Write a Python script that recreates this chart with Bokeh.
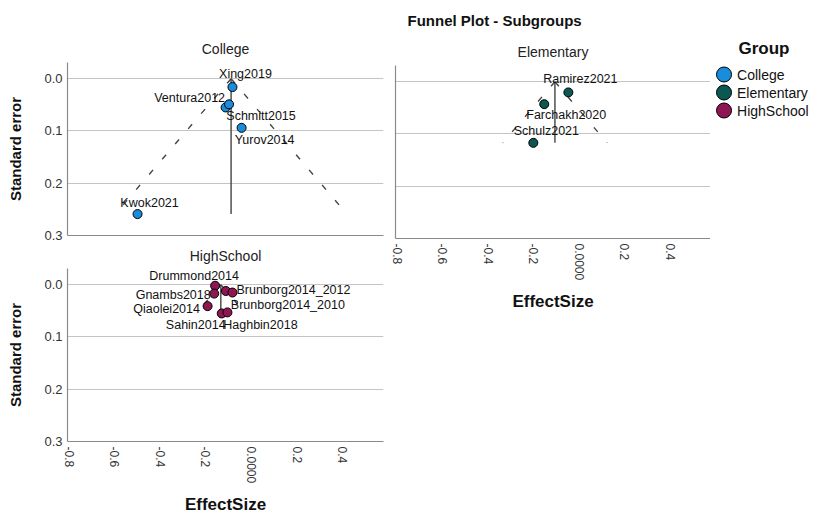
import numpy as np
from bokeh.plotting import figure
from bokeh.layouts import row, column
from bokeh.models import (Range1d, FactorRange, FixedTicker, Title, ColumnDataSource)
from bokeh.core.properties import value
from bokeh.embed import file_html
from bokeh.resources import INLINE

FONT = "Liberation Sans"

# ---------------- data ----------------
x_ticks = [-0.8, -0.6, -0.4, -0.2, 0.0, 0.2, 0.4]
x_tick_labels = ["-0.8", "-0.6", "-0.4", "-0.2", "0.0000", "0.2", "0.4"]
y_ticks = [0.0, 0.1, 0.2, 0.3]
y_tick_labels = ["0.0", "0.1", "0.2", "0.3"]

groups = ["College", "Elementary", "HighSchool"]

college_study = ["Xing2019", "Ventura2012", "Schmitt2015", "Yurov2014", "Kwok2021"]
college_es = [-0.084, -0.114, -0.099, -0.044, -0.500]
college_se = [0.016, 0.055, 0.049, 0.094, 0.259]
college_pooled = -0.090

elem_study = ["Ramirez2021", "Farchakh2020", "Schulz2021"]
elem_es = [-0.047, -0.153, -0.201]
elem_se = [0.0205, 0.043, 0.117]
elem_pooled = -0.106

hs_study = ["Drummond2014", "Gnambs2018", "Brunborg2014_2010", "Brunborg2014_2012",
            "Qiaolei2014", "Sahin2014", "Haghbin2018"]
hs_es = [-0.160, -0.164, -0.113, -0.084, -0.193, -0.131, -0.106]
hs_se = [0.002, 0.017, 0.012, 0.015, 0.041, 0.055, 0.053]
hs_pooled = -0.135

# ---------------- styles ----------------
colors = {"College": "#1a8cdc", "Elementary": "#0b5752", "HighSchool": "#8e1652"}
# label offsets in pixels (style only)
college_dx = [13, -36, 32, 23, 12]
college_dy = [-13, -9, 12, 12, -11]
elem_dx = [12, 22, 13]
elem_dy = [-13, 11, -12]
hs_dx = [-21, -41, 62, 61, -41, -26, 33]
hs_dy = [-10, 1, 14, -3, 3, 12, 13]

X_RANGE = (-0.807, 0.578)
Y_RANGE = (0.3, -0.031)


def style_title(t, size="14px", bold=False, standoff=11):
    t.text_font = FONT
    t.text_font_size = size
    t.text_font_style = "bold" if bold else "normal"
    t.text_color = "#222222" if not bold else "#111111"
    t.standoff = standoff


def make_panel(title, study, es, se, pooled, color, dx, dy,
               xlabels, ylabels, borders, fw, title_standoff=11):
    left, right, top, bottom = borders
    p = figure(frame_width=fw, frame_height=173,
               x_range=Range1d(*X_RANGE), y_range=Range1d(*Y_RANGE),
               output_backend="svg", toolbar_location=None,
               min_border_left=left, min_border_right=right,
               min_border_top=top, min_border_bottom=bottom,
               title=title)
    p.title.align = "center"
    style_title(p.title, standoff=title_standoff)
    p.outline_line_color = None
    p.background_fill_color = "white"
    p.border_fill_color = "white"
    p.xgrid.visible = False
    p.ygrid.ticker = FixedTicker(ticks=y_ticks)
    p.ygrid.grid_line_color = "#c4c4c4"
    p.ygrid.grid_line_width = 1

    for ax in (p.xaxis[0], p.yaxis[0]):
        ax.axis_line_color = "#8a8a8a"
        ax.axis_line_width = 1.2
        ax.major_tick_line_color = None
        ax.minor_tick_line_color = None
        ax.major_tick_out = 0
        ax.major_tick_in = 0
        ax.minor_tick_out = 0
        ax.minor_tick_in = 0
        ax.major_label_text_font = FONT
        ax.major_label_text_color = "#333333"
        ax.axis_label_text_font = FONT
        ax.axis_label_text_font_style = "bold"
        ax.axis_label_text_color = "#111111"

    if xlabels:
        p.xaxis.ticker = FixedTicker(ticks=x_ticks)
        p.xaxis.major_label_overrides = {t: l for t, l in zip(x_ticks, x_tick_labels)}
        p.xaxis.major_label_orientation = -np.pi / 2
        p.xaxis.major_label_standoff = 5
        p.xaxis.major_label_text_font_size = "12px"
        p.xaxis.axis_label = "EffectSize"
        p.xaxis.axis_label_text_font_size = "17px"
        p.xaxis.axis_label_standoff = 9
    else:
        p.xaxis.ticker = FixedTicker(ticks=[])
    if ylabels:
        p.yaxis.ticker = FixedTicker(ticks=y_ticks)
        p.yaxis.major_label_overrides = {t: l for t, l in zip(y_ticks, y_tick_labels)}
        p.yaxis.major_label_standoff = 5
        p.yaxis.major_label_text_font_size = "13px"
        p.yaxis.axis_label = "Standard error"
        p.yaxis.axis_label_text_font_size = "15px"
        p.yaxis.axis_label_standoff = 17
    else:
        p.yaxis.ticker = FixedTicker(ticks=[])

    se_max = max(se)
    p.line([pooled, pooled - 1.96 * se_max], [0, se_max], line_color="#444444",
           line_width=1.4, line_dash="6 14")
    p.line([pooled, pooled + 1.96 * se_max], [0, se_max], line_color="#444444",
           line_width=1.4, line_dash="6 14")
    p.line([pooled, pooled], [0, se_max], line_color="#444444", line_width=1.4)

    src = ColumnDataSource(dict(es=es, se=se, study=study, dx=dx, dy=dy))
    p.scatter("es", "se", source=src, size=9, fill_color=color,
              line_color="black", line_width=1)
    p.text("es", "se", text="study", x_offset="dx", y_offset="dy", source=src,
           text_font=value(FONT), text_font_size="12.5px", text_align="center",
           text_baseline="middle", text_color="#111111")
    return p


pA = make_panel("College", college_study, college_es, college_se, college_pooled,
                colors["College"], college_dx, college_dy, False, True,
                (67, 5, 62, 5), 316, 11)
pB = make_panel("Funnel Plot - Subgroups", elem_study, elem_es, elem_se, elem_pooled,
                colors["Elementary"], elem_dx, elem_dy, True, False,
                (7, 0, 62, 100), 315, 16)
pC = make_panel("HighSchool", hs_study, hs_es, hs_se, hs_pooled,
                colors["HighSchool"], hs_dx, hs_dy, True, True,
                (67, 5, 28, 71), 316, 9)

# main title (outermost) and the Elementary panel title (closest to the frame)
pB.title.align = "left"
pB.title.offset = 12
style_title(pB.title, size="15px", bold=True, standoff=16)
t_el = Title(text="Elementary", align="center")
style_title(t_el, standoff=11)
pB.add_layout(t_el, "above")

# legend panel: one swatch per group on a categorical axis
LEG_MARK_X = 0.13
pL = figure(width=104, frame_height=54, x_range=Range1d(0, 1),
            y_range=FactorRange(factors=list(reversed(groups))),
            x_axis_type=None, y_axis_type=None, toolbar_location=None,
            output_backend="svg", min_border_left=0, min_border_right=0,
            min_border_top=65, min_border_bottom=8, title="Group")
pL.title.align = "left"
pL.title.offset = 28
style_title(pL.title, size="17px", bold=True, standoff=16)
pL.outline_line_color = None
pL.grid.visible = False
leg_src = ColumnDataSource(dict(group=groups, color=[colors[g] for g in groups],
                                mx=[LEG_MARK_X] * len(groups)))
pL.scatter("mx", "group", source=leg_src, size=15, fill_color="color",
           line_color="black", line_width=1)
pL.text("mx", "group", text="group", source=leg_src, x_offset=13,
        text_font=value(FONT), text_font_size="14px", text_align="left",
        text_baseline="middle", text_color="#111111")

layout = row(column(pA, pC), pB, pL)
open("out.html", "w").write(file_html(layout, INLINE))
